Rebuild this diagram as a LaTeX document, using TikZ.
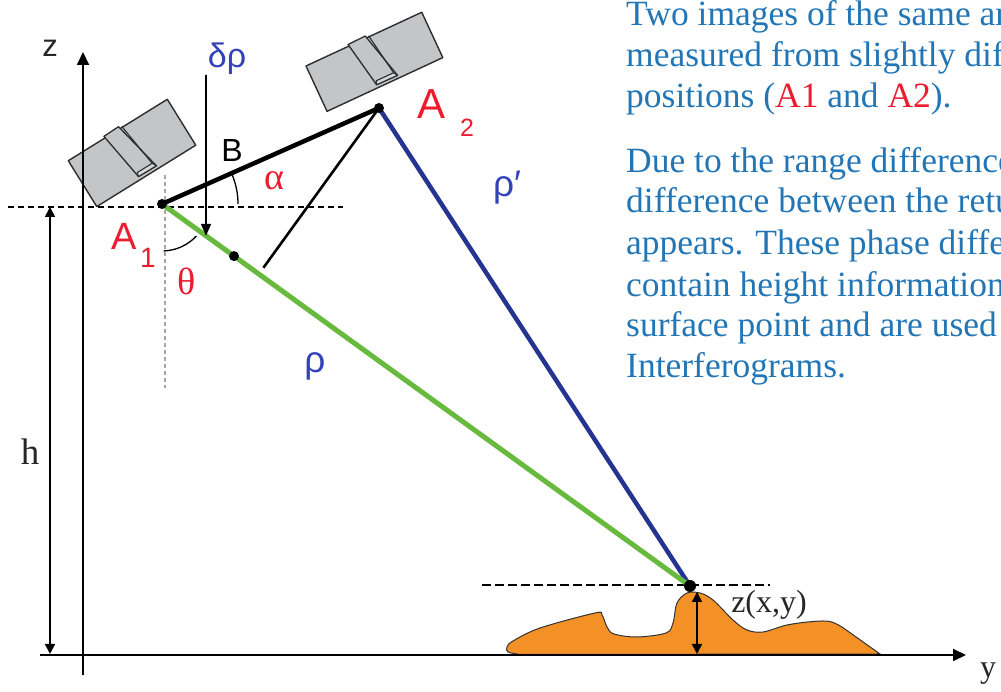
\documentclass[tikz,border=0pt]{standalone}
\usepackage{fontspec}
\setmainfont{Liberation Serif}
\newfontfamily\sansA{Liberation Sans}
\usetikzlibrary{arrows.meta,calc}
\definecolor{txtblue}{RGB}{34,118,182}
\definecolor{lblred}{RGB}{236,28,46}
\definecolor{lblblue}{RGB}{52,66,186}
\definecolor{beamgreen}{RGB}{104,186,62}
\definecolor{beamblue}{RGB}{38,52,145}
\definecolor{terrainfill}{RGB}{243,145,38}
\definecolor{satgray}{RGB}{196,197,199}
\definecolor{satlight}{RGB}{215,216,218}
\definecolor{satedge}{RGB}{45,45,45}
\definecolor{guidegray}{RGB}{165,165,165}

% satellite body in unit coordinates (u along the panel, v across it)
\newcommand\satbody{%
  \filldraw[fill=satgray,draw=satedge,line width=1.4pt,line join=round] (0,0) rectangle (1,1);
  \filldraw[fill=satgray,draw=satedge,line width=1.3pt,line join=round]
    (0.37,-0.035) -- (0.52,-0.045) -- (0.62,0.94) -- (0.44,0.935) -- cycle;
  \draw[satedge,line width=1.1pt] (0.545,-0.02) -- (0.60,0.86);
  \filldraw[fill=satlight,draw=satedge,line width=1.1pt,line join=round]
    (0.45,0.86) -- (0.60,0.86) -- (0.62,0.94) -- (0.44,0.935) -- cycle;
}

\begin{document}
\begin{tikzpicture}[x=1pt,y=1pt,
  axisline/.style={line width=1.8pt,-{Triangle[length=13pt,width=12pt]}},
  dimarrow/.style={line width=1.6pt,{Triangle[length=10pt,width=10pt]}-{Triangle[length=10pt,width=10pt]}},
  dotmark/.style={circle,fill=black,inner sep=0pt,minimum size=#1},
  para/.style={anchor=base west,inner sep=0pt,text=txtblue,font=\fontsize{35.5}{40}\selectfont},
  redlbl/.style={inner sep=0pt,text=lblred},
  bluelbl/.style={inner sep=0pt,text=lblblue},
  darklbl/.style={inner sep=0pt,text=black!85}]
\useasboundingbox (0,0) rectangle (1001,692);

% key points
\coordinate (A1) at (162,488);
\coordinate (A2) at (379,584);
\coordinate (P) at (690,106);
\coordinate (D) at ($(A1)!{44/528}!(P)$);
\coordinate (M) at ($(A1)!{72/528}!(P)$);
\coordinate (F) at ($(A1)!(A2)!(P)$);
\coordinate (Fend) at ($(A2)!0.962!(F)$);

% satellites
\begin{scope}[shift={(68.3,531.3)},rotate=31.8,xscale=116.5,yscale=-54]
  \satbody
\end{scope}
\begin{scope}[shift={(306,626)},rotate=24.9,xscale=127.6,yscale=-50]
  \satbody
\end{scope}

% reference lines
\coordinate (hl) at (8,485);
\coordinate (hr) at (343,485);
\draw[line width=1.4pt,dash pattern=on 6pt off 4pt] (hl) -- (hr);
\coordinate (gt) at (165,517);
\coordinate (gb) at (165,304);
\draw[guidegray,line width=2.2pt,dash pattern=on 4pt off 3pt] (gt) -- (gb);

% terrain
\filldraw[fill=terrainfill,draw=black!80,line width=1pt]
  plot[smooth,tension=0.55] coordinates {(520,37.5)(508,40)(507,45)(513,51)(540,64)(595,79)(602,77)(607,65)(614,58)(637,55)(666,59)(673,69)(677,89)(687,99)(700,99)(713,92)(733,72)(747,62)(763,60)(787,67)(813,70.5)(830,70.5)(842,65)}
  -- (880,38) -- cycle;

% axes
\coordinate (zb) at (83,17);
\coordinate (zt) at (83,640);
\draw[axisline] (zb) -- (zt);
\coordinate (yl) at (40,37);
\coordinate (yr) at (966,37);
\draw[axisline] (yl) -- (yr);

% height h
\coordinate (ht) at (50,485);
\coordinate (hb) at (50,38);
\draw[dimarrow] (hb) -- (ht);

% ground reference line and terrain height
\coordinate (gl) at (482,107);
\coordinate (gr) at (770,107);
\draw[line width=2.6pt,dash pattern=on 9pt off 4pt] (gl) -- (gr);
\coordinate (zt2) at (697,100);
\coordinate (zb2) at (697,38);
\draw[dimarrow] (zb2) -- (zt2);

% range lines
\draw[beamblue,line width=4.5pt] (A2) -- (P);
\draw[beamgreen,line width=5pt] (A1) -- (P);
\draw[line width=4.5pt] (A1) -- (A2);
\draw[line width=2.6pt] (A2) -- (Fend);

% path difference arrow
\coordinate (dtop) at (206,617);
\draw[line width=1.6pt,-{Triangle[length=12pt,width=10pt]}] (dtop) -- (D);

% angles
\draw[line width=1.3pt] ($(A1)+(76,0)$) arc[start angle=0,end angle=23,radius=76];
\draw[line width=1.3pt] ($(A1)+(-88:47)$) arc[start angle=-88,end angle=-43,radius=47];

% points
\node[dotmark=10pt] (a1dot) at (A1) {};
\node[dotmark=10pt] (a2dot) at (A2) {};
\node[dotmark=10pt] (mdot) at (M) {};
\node[dotmark=12pt] (pdot) at (P) {};

% labels
\node[darklbl,font=\sansA\fontsize{31}{31}\selectfont] (zlbl) at (50,644) {z};
\node[bluelbl,font=\sansA\fontsize{34}{34}\selectfont] (drho) at (227,633) {δρ};
\node[inner sep=0pt,font=\sansA\fontsize{32}{32}\selectfont] (blbl) at (232,541) {B};
\node[redlbl,font=\fontsize{38}{38}\selectfont] (alpha) at (274,511) {α};
\node[redlbl,font=\sansA\fontsize{38}{38}\selectfont] (a1A) at (124,456) {A};
\node[redlbl,font=\sansA\fontsize{28}{28}\selectfont] (a1sub) at (148,434) {1};
\node[redlbl,font=\fontsize{38}{38}\selectfont] (theta) at (187,411) {θ};
\node[redlbl,font=\sansA\fontsize{42}{42}\selectfont] (a2A) at (432,588) {A};
\node[redlbl,font=\sansA\fontsize{25}{25}\selectfont] (a2sub) at (467,564) {2};
\node[bluelbl,font=\sansA\fontsize{37}{37}\selectfont] (rhop) at (507,504) {ρ′};
\node[bluelbl,font=\sansA\fontsize{37}{37}\selectfont] (rho) at (315,326) {ρ};
\node[darklbl,font=\fontsize{37}{37}\selectfont] (hlbl) at (30,240) {h};
\node[darklbl,font=\fontsize{32}{32}\selectfont] (ylbl) at (988,18) {y};
\node[darklbl,font=\fontsize{32}{32}\selectfont] (zxy) at (769,87) {z(x,y)};

% explanatory text
\node[para] (t1) at (626,666) {Two images of the same area};
\node[para] (t2) at (626,625) {measured from slightly different};
\node[para] (t3) at (626,584) {positions (\textcolor{lblred}{A1} and \textcolor{lblred}{A2}).};
\node[para] (t4) at (626,519) {Due to the range difference};
\node[para] (t5) at (626,479) {difference between the return};
\node[para] (t6) at (626,437) {appears. These phase differences};
\node[para] (t7) at (626,395) {contain height information};
\node[para] (t8) at (626,355) {surface point and are used to};
\node[para] (t9) at (626,314) {Interferograms.};
\end{tikzpicture}
\end{document}
